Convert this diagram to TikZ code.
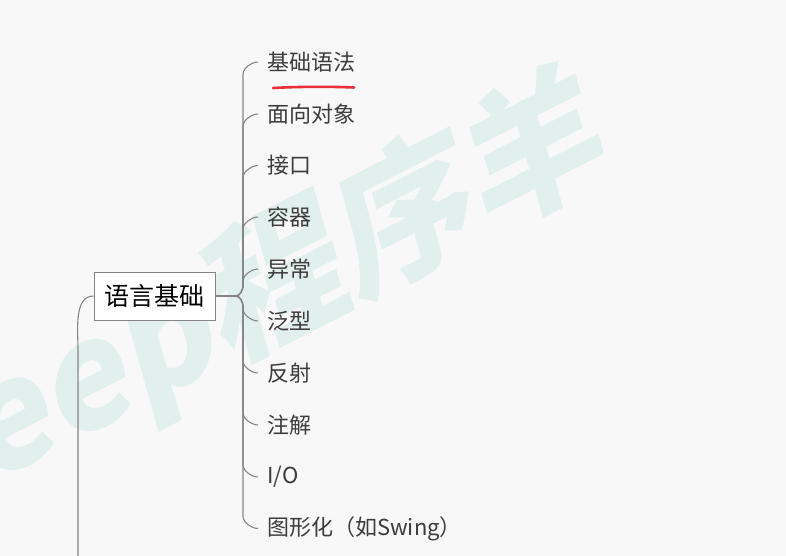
\documentclass[tikz,border=0pt]{standalone}
\usepackage{fontspec}
\usetikzlibrary{calc}
\newfontfamily\cjk{Noto Sans CJK SC}
\definecolor{bg}{HTML}{F8F8F8}
\definecolor{wm}{HTML}{E1F0EC}
\definecolor{ln}{HTML}{858585}
\definecolor{tx}{HTML}{3C3C3C}
\definecolor{ul}{HTML}{E8303A}
\tikzset{
  conn/.style={draw=ln, line width=1.1pt},
  item/.style={anchor=west, inner xsep=9pt, inner ysep=0pt, text=tx, font=\cjk\fontsize{22}{24}\selectfont},
  topic/.style={draw=ln, line width=1pt, fill=white, minimum width=121pt, minimum height=48pt, inner sep=0pt, font=\cjk\fontsize{25}{28}\selectfont, text=black}
}
\begin{document}
\begin{tikzpicture}[x=1pt,y=-1pt]
\fill[bg] (0,0) rectangle (786,556);
\useasboundingbox (0,0) rectangle (786,556);
\begin{scope}
\clip (0,0) rectangle (786,556);
\node[rotate=27, xslant=0.2, text=wm, inner sep=0pt, font=\cjk\bfseries\fontsize{145}{145}\selectfont] (wmark) at (288,279) {eep程序羊};
\end{scope}
\node[topic] (lang) at (154.5,296) {语言基础};
\coordinate (J) at (236,296);
\coordinate (P) at (78,556);
\node[item] (i1) at (258,62) {基础语法};
\node[item] (i2) at (258,114) {面向对象};
\node[item] (i3) at (258,165.5) {接口};
\node[item] (i4) at (258,217) {容器};
\node[item] (i5) at (258,269) {异常};
\node[item] (i6) at (258,321) {泛型};
\node[item] (i7) at (258,373) {反射};
\node[item] (i8) at (258,425) {注解};
\node[item] (i9) at (258,477) {I/O};
\node[item] (i10) at (258,528.5) {图形化（如Swing）};
\draw[conn] (lang.east) -- (J);
\foreach \n in {i1,i2,i3,i4,i5}{
  \draw[conn] (J) to[out=0,in=-90,looseness=0.8] ($(J)+(7,-10)$) -- ($(J|-\n.west)+(7,12)$) to[out=90,in=180,looseness=0.8] (\n.west);
}
\foreach \n in {i6,i7,i8,i9,i10}{
  \draw[conn] (J) to[out=0,in=90,looseness=0.8] ($(J)+(7,10)$) -- ($(J|-\n.west)+(7,-12)$) to[out=-90,in=180,looseness=0.8] (\n.west);
}
\draw[conn] (P) -- (78,350) to[out=90,in=180,looseness=0.9] (lang.west);
\draw[ul, line width=2.6pt, line cap=round] (273,88) .. controls (300,86.5) and (330,86.5) .. (354,87.5);
\end{tikzpicture}
\end{document}
